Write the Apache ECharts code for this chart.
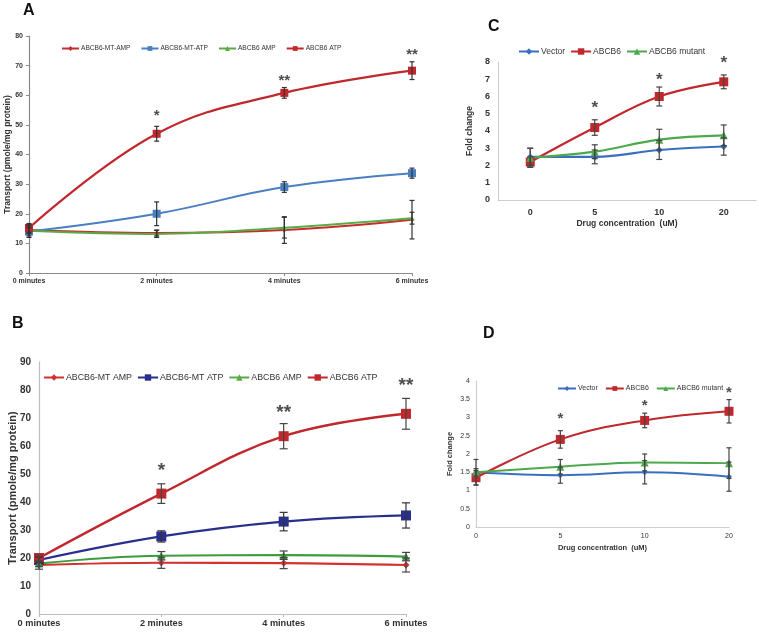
<!DOCTYPE html>
<html><head><meta charset="utf-8">
<script src="https://cdn.jsdelivr.net/npm/echarts@6/dist/echarts.min.js"></script>
<style>html,body{margin:0;padding:0;background:#fff}#c{width:759px;height:633px}</style>
</head><body><div id="c"></div>
<script>
// ---------- data ----------
const catsAB = ['0 minutes', '2 minutes', '4 minutes', '6 minutes'];
const catsCD = ['0', '5', '10', '20'];

// Panel A
const namesA = ['ABCB6-MT-AMP', 'ABCB6-MT-ATP', 'ABCB6 AMP', 'ABCB6 ATP'];
const aMtAmp = [14.5, 13.5, 14.5, 18.0];
const aMtAmpErr = [2.0, 1.0, 4.5, 6.5];
const aMtAtp = [14.0, 20.0, 29.0, 33.7];
const aMtAtpErr = [2.0, 4.0, 1.8, 1.7];
const aAmp = [14.3, 13.2, 15.3, 18.5];
const aAmpErr = [1.0, 1.2, 3.5, 2.0];
const aAtp = [15.2, 47.0, 60.8, 68.3];
const aAtpErr = [1.5, 2.5, 1.8, 3.0];
const starsA = [[1, 53, '*'], [2, 65, '**'], [3, 73.5, '**']];

// Panel B
const namesB = ['ABCB6-MT AMP', 'ABCB6-MT ATP', 'ABCB6 AMP', 'ABCB6 ATP'];
const bMtAmp = [17.5, 18.3, 18.2, 17.5];
const bMtAmpErr = [1.5, 2.0, 2.0, 2.5];
const bMtAtp = [19.3, 27.7, 33.0, 35.2];
const bMtAtpErr = [1.0, 2.0, 3.3, 4.5];
const bAmp = [18.0, 20.8, 21.0, 20.5];
const bAmpErr = [1.0, 1.5, 1.5, 1.5];
const bAtp = [20.0, 43.0, 63.5, 71.5];
const bAtpErr = [1.0, 3.5, 4.5, 5.5];
const starsB = [[1, 51, '*'], [2, 72, '**'], [3, 81.5, '**']];

// Panel C
const namesCD = ['Vector', 'ABCB6', 'ABCB6 mutant'];
const cVector = [2.5, 2.5, 2.9, 3.1];
const cVectorErr = [0.5, 0.4, 0.55, 0.5];
const cAbcb6 = [2.2, 4.2, 6.0, 6.85];
const cAbcb6Err = [0.3, 0.45, 0.55, 0.4];
const cMutant = [2.45, 2.8, 3.5, 3.75];
const cMutantErr = [0.55, 0.4, 0.6, 0.6];
const starsC = [[1, 5.3, '*'], [2, 6.95, '*'], [3, 7.95, '*']];

// Panel D
const dVector = [1.5, 1.42, 1.5, 1.38];
const dVectorErr = [0.35, 0.22, 0.32, 0.4];
const dAbcb6 = [1.35, 2.4, 2.92, 3.17];
const dAbcb6Err = [0.2, 0.24, 0.2, 0.32];
const dMutant = [1.5, 1.65, 1.77, 1.75];
const dMutantErr = [0.1, 0.2, 0.23, 0.42];
const starsD = [[1, 2.95, '*'], [2, 3.33, '*'], [3, 3.68, '*']];

// ---------- chart ----------
const chart = echarts.init(document.getElementById('c'), null, {renderer: 'canvas'});
const FONT = 'Arial, "Liberation Sans", sans-serif';
const series = [];

function addLine(gi, name, vals, errs, color, symbol, size, lw, cap, errColor) {
  series.push({
    type: 'line', name: name, xAxisIndex: gi, yAxisIndex: gi, data: vals,
    smooth: 0.4, symbol: symbol, symbolSize: size, z: 3,
    lineStyle: {color: color, width: lw}, itemStyle: {color: color},
    emphasis: {disabled: true}
  });
  series.push({
    type: 'custom', name: name, xAxisIndex: gi, yAxisIndex: gi, z: 4,
    data: vals.map((v, i) => [i, v - errs[i], v + errs[i]]),
    renderItem: function (params, api) {
      const lo = api.coord([api.value(0), api.value(1)]);
      const hi = api.coord([api.value(0), api.value(2)]);
      const st = {stroke: errColor || color, lineWidth: 1.2};
      return {type: 'group', children: [
        {type: 'line', shape: {x1: lo[0], y1: lo[1], x2: hi[0], y2: hi[1]}, style: st},
        {type: 'line', shape: {x1: lo[0] - cap, y1: lo[1], x2: lo[0] + cap, y2: lo[1]}, style: st},
        {type: 'line', shape: {x1: hi[0] - cap, y1: hi[1], x2: hi[0] + cap, y2: hi[1]}, style: st}
      ]};
    }
  });
}
function addStars(gi, stars, fs) {
  series.push({
    type: 'scatter', xAxisIndex: gi, yAxisIndex: gi, symbolSize: 0, z: 5, silent: true,
    data: stars.map(s => ({value: [s[0], s[1]], label: {formatter: s[2]}})),
    label: {show: true, position: 'inside', color: '#222', fontSize: fs, fontWeight: 'bold', fontFamily: FONT}
  });
}

// A
addLine(0, namesA[0], aMtAmp, aMtAmpErr, '#c62d2d', 'diamond', 5, 2, 2.5, '#333');
addLine(0, namesA[1], aMtAtp, aMtAtpErr, '#4a7fc1', 'rect', 8, 2, 2.5, '#333');
addLine(0, namesA[2], aAmp, aAmpErr, '#5aab46', 'triangle', 5, 2, 2.5, '#333');
addLine(0, namesA[3], aAtp, aAtpErr, '#c0282d', 'rect', 8, 2.2, 2.5, '#333');
addStars(0, starsA, 15);
// B
addLine(1, namesB[0], bMtAmp, bMtAmpErr, '#d23232', 'diamond', 7, 2.2, 4, '#444');
addLine(1, namesB[1], bMtAtp, bMtAtpErr, '#2b2f8c', 'rect', 10, 2.2, 4, '#333');
addLine(1, namesB[2], bAmp, bAmpErr, '#3d9c3d', 'triangle', 8, 2.2, 4, '#444');
addLine(1, namesB[3], bAtp, bAtpErr, '#c0282d', 'rect', 10, 2.4, 4, '#444');
addStars(1, starsB, 19);
// C
addLine(2, namesCD[0], cVector, cVectorErr, '#3a6fc0', 'diamond', 7, 2.2, 3, '#444');
addLine(2, namesCD[1], cAbcb6, cAbcb6Err, '#c0282d', 'rect', 9, 2.2, 3, '#444');
addLine(2, namesCD[2], cMutant, cMutantErr, '#4ea84e', 'triangle', 8, 2.2, 3, '#444');
addStars(2, starsC, 17);
// D
addLine(3, namesCD[0], dVector, dVectorErr, '#3a6fc0', 'diamond', 6, 2, 2.5, '#444');
addLine(3, namesCD[1], dAbcb6, dAbcb6Err, '#c0282d', 'rect', 9, 2, 2.5, '#444');
addLine(3, namesCD[2], dMutant, dMutantErr, '#4ea84e', 'triangle', 8, 2, 2.5, '#444');
addStars(3, starsD, 15);

function xAx(gi, cats, gap, o) {
  return {
    type: 'category', gridIndex: gi, data: cats, boundaryGap: gap,
    axisLine: {lineStyle: {color: o.ax, width: 1.2}},
    axisTick: {show: o.ticks, alignWithLabel: true, length: 3, lineStyle: {color: o.ax}},
    axisLabel: {color: '#333', fontSize: o.fs, fontWeight: o.fw, fontFamily: FONT, margin: o.margin},
    name: o.name || '', nameLocation: 'middle', nameGap: o.nameGap || 20, nameMoveOverlap: false,
    nameTextStyle: {color: '#333', fontSize: o.nameFs || 8, fontWeight: 'bold', fontFamily: FONT},
    splitLine: {show: false}
  };
}
function yAx(gi, max, interval, o) {
  return {
    type: 'value', gridIndex: gi, min: 0, max: max, interval: interval,
    axisLine: {show: true, lineStyle: {color: o.ax, width: 1.2}},
    axisTick: {show: o.ticks, length: 3, lineStyle: {color: o.ax}},
    axisLabel: {color: '#333', fontSize: o.fs, fontWeight: o.fw, fontFamily: FONT, margin: o.margin},
    splitLine: {show: false},
    name: o.name, nameLocation: 'middle', nameGap: o.nameGap, nameRotate: 90, nameMoveOverlap: false,
    nameTextStyle: {color: '#333', fontSize: o.nameFs, fontWeight: 'bold', fontFamily: FONT}
  };
}
function legendOf(names, left, top, fs, iw, ih, gap) {
  return {
    data: names, left: left, top: top, itemWidth: iw, itemHeight: ih, itemGap: gap,
    padding: 0, selectedMode: false,
    textStyle: {color: '#333', fontSize: fs, fontFamily: FONT, padding: [0, 0, 0, -3]}
  };
}

chart.setOption({
  animation: false,
  backgroundColor: '#fff',
  grid: [
    {left: 29, top: 36, width: 383, height: 237, outerBoundsMode: 'none', containLabel: false},
    {left: 39, top: 362, width: 367, height: 252, outerBoundsMode: 'none', containLabel: false},
    {left: 498, top: 62, width: 258, height: 138, outerBoundsMode: 'none', containLabel: false},
    {left: 476, top: 381, width: 253, height: 146, outerBoundsMode: 'none', containLabel: false}
  ],
  xAxis: [
    xAx(0, catsAB, false, {ax: '#8a8a8a', ticks: true, fs: 7, fw: 'bold', margin: 5}),
    xAx(1, catsAB, false, {ax: '#bdbdbd', ticks: true, fs: 9.2, fw: 'bold', margin: 5}),
    xAx(2, catsCD, true, {ax: '#cfcfcf', ticks: false, fs: 9, fw: 'bold', margin: 8,
      name: 'Drug concentration  (uM)', nameFs: 8.5, nameGap: 19}),
    xAx(3, catsCD, false, {ax: '#cfcfcf', ticks: false, fs: 7, fw: 'normal', margin: 6,
      name: 'Drug concentration  (uM)', nameFs: 7.5, nameGap: 17})
  ],
  yAxis: [
    yAx(0, 80, 10, {ax: '#8a8a8a', ticks: true, fs: 7, fw: 'bold', margin: 6,
      name: 'Transport (pmole/mg protein)', nameFs: 8.5, nameGap: 17}),
    yAx(1, 90, 10, {ax: '#bdbdbd', ticks: false, fs: 10, fw: 'bold', margin: 8,
      name: 'Transport (pmole/mg protein)', nameFs: 11, nameGap: 21}),
    yAx(2, 8, 1, {ax: '#cfcfcf', ticks: false, fs: 9, fw: 'bold', margin: 8,
      name: 'Fold change', nameFs: 8.5, nameGap: 24}),
    yAx(3, 4, 0.5, {ax: '#cfcfcf', ticks: false, fs: 7, fw: 'normal', margin: 6,
      name: 'Fold change', nameFs: 7.5, nameGap: 22})
  ],
  legend: [
    legendOf(namesA, 61, 45, 6.6, 17, 6, 10),
    legendOf(namesB, 43, 373, 8.8, 20, 8, 5),
    legendOf(namesCD, 518, 47, 8.5, 20, 8, 5),
    legendOf(namesCD, 557, 385, 7, 18, 6, 7)
  ],
  graphic: [
    {type: 'text', left: 23, top: 3, style: {text: 'A', fontSize: 16, fontWeight: 'bold', fontFamily: FONT, fill: '#111'}},
    {type: 'text', left: 12, top: 316, style: {text: 'B', fontSize: 16, fontWeight: 'bold', fontFamily: FONT, fill: '#111'}},
    {type: 'text', left: 488, top: 19, style: {text: 'C', fontSize: 16, fontWeight: 'bold', fontFamily: FONT, fill: '#111'}},
    {type: 'text', left: 483, top: 326, style: {text: 'D', fontSize: 16, fontWeight: 'bold', fontFamily: FONT, fill: '#111'}}
  ],
  series: series
});
</script></body></html>
